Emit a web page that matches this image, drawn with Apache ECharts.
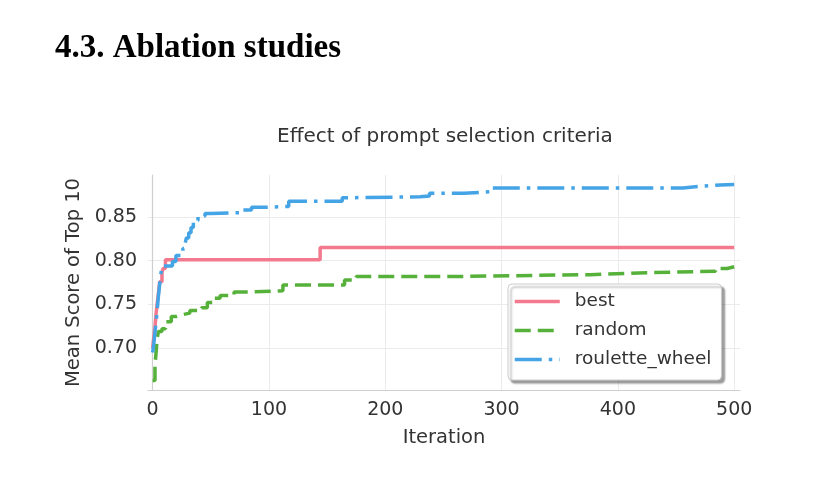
<!DOCTYPE html>
<html>
<head>
<meta charset="utf-8">
<script src="https://cdn.jsdelivr.net/npm/echarts@6/dist/echarts.min.js"></script>
<style>
html,body{margin:0;padding:0;background:#fff;}
#chart{width:813px;height:478px;}
</style>
</head>
<body>
<div id="chart"></div>
<script>
// ---- data ----
const seriesNames = ['best', 'random', 'roulette_wheel'];
const xTickLabels = ['0', '100', '200', '300', '400', '500'];
const yTickLabels = ['0.70', '0.75', '0.80', '0.85'];

// [iteration, mean score of top 10] at each change point (step curve)
const bestData = [
  [0, 0.700], [1, 0.712], [2, 0.724], [3, 0.740], [4, 0.752], [5, 0.763],
  [6, 0.776], [8, 0.786], [9, 0.791], [11, 0.801], [144, 0.815], [500, 0.815]
];
const randomData = [
  [0, 0.663], [2, 0.680], [3, 0.696], [4, 0.712], [5, 0.719], [8, 0.722],
  [11, 0.730], [16, 0.736], [20, 0.738], [25, 0.740], [32, 0.743], [42, 0.746],
  [47, 0.752], [53, 0.757], [58, 0.760], [70, 0.764], [80, 0.7655], [112, 0.772],
  [165, 0.778], [175, 0.782], [268, 0.784], [376, 0.786], [418, 0.788],
  [484, 0.791], [494, 0.793], [500, 0.793]
];
const rouletteData = [
  [0, 0.695], [1, 0.705], [2, 0.718], [3, 0.730], [4, 0.745], [5, 0.760],
  [6, 0.772], [7, 0.784], [8, 0.794], [17, 0.799], [20, 0.806], [26, 0.814],
  [28, 0.820], [29, 0.826], [31, 0.832], [33, 0.838], [35, 0.846], [39, 0.851],
  [45, 0.854], [50, 0.855], [77, 0.858], [85, 0.861], [95, 0.862], [117, 0.868],
  [163, 0.872], [168, 0.873], [230, 0.874], [238, 0.877], [268, 0.879],
  [292, 0.883], [456, 0.885], [470, 0.8865], [488, 0.887], [500, 0.887]
];

const colors = ['#f3798e', '#55b13a', '#44a4e6'];
const font = 'DejaVu Sans';
const textColor = '#333333';

const chart = echarts.init(document.getElementById('chart'), null, {renderer: 'canvas'});
chart.setOption({
  animation: false,
  backgroundColor: '#ffffff',
  title: [
    {
      text: '4.3. Ablation studies',
      left: 50, top: 27,
      textStyle: {fontFamily: 'Liberation Serif', fontWeight: 'bold', fontSize: 33, color: '#000'}
    },
    {
      text: 'Effect of prompt selection criteria',
      left: 272, top: 122,
      textStyle: {fontFamily: font, fontWeight: 'normal', fontSize: 20, color: textColor}
    }
  ],
  grid: {left: 148, right: 73, top: 175, bottom: 88, containLabel: false},
  xAxis: {
    type: 'value',
    min: -4, max: 505, splitNumber: 5,
    name: 'Iteration', nameLocation: 'middle', nameGap: 38,
    nameTextStyle: {fontFamily: font, fontSize: 19.5, color: textColor},
    axisLine: {show: true, lineStyle: {color: '#cfcfcf', width: 1.2}},
    axisTick: {show: false},
    axisLabel: {
      fontFamily: font, fontSize: 19, color: textColor, margin: 11,
      showMinLabel: false, showMaxLabel: false,
      formatter: v => { const s = String(Math.round(v)); return xTickLabels.includes(s) ? s : ''; }
    },
    splitLine: {show: true, showMinLine: false, showMaxLine: false, lineStyle: {color: '#ebebeb', width: 1}}
  },
  yAxis: {
    type: 'value',
    min: 0.652, max: 0.898, splitNumber: 5,
    name: 'Mean Score of Top 10', nameLocation: 'middle', nameGap: 64, nameRotate: 90,
    nameTextStyle: {fontFamily: font, fontSize: 19.5, color: textColor},
    axisLine: {show: true, lineStyle: {color: '#cfcfcf', width: 1.2}},
    axisTick: {show: false},
    axisLabel: {
      fontFamily: font, fontSize: 19, color: textColor, margin: 11,
      showMinLabel: false, showMaxLabel: false,
      formatter: v => { const s = v.toFixed(2); return yTickLabels.includes(s) ? s : ''; }
    },
    splitLine: {show: true, showMinLine: false, showMaxLine: false, lineStyle: {color: '#ebebeb', width: 1}}
  },
  legend: {
    orient: 'vertical',
    left: 508, top: 284,
    padding: [8, 10, 11, 5],
    itemWidth: 45, itemHeight: 20, itemGap: 10,
    backgroundColor: '#ffffff',
    borderColor: '#cccccc', borderWidth: 1, borderRadius: 4,
    shadowColor: 'rgba(0,0,0,0.38)', shadowBlur: 2, shadowOffsetX: 3, shadowOffsetY: 3,
    itemStyle: {color: 'rgba(0,0,0,0)', borderColor: 'rgba(0,0,0,0)', borderWidth: 0},
    lineStyle: {width: 3.5},
    textStyle: {fontFamily: font, fontSize: 18.5, color: textColor, padding: [0, 0, 0, 10]},
    data: seriesNames
  },
  series: [
    {
      name: seriesNames[0], type: 'line', step: 'end', data: bestData,
      symbol: 'none', color: colors[0],
      lineStyle: {width: 3.5, type: 'solid', color: colors[0]}
    },
    {
      name: seriesNames[1], type: 'line', step: 'end', data: randomData,
      symbol: 'none', color: colors[1],
      lineStyle: {width: 3.5, type: [16, 7], color: colors[1]}
    },
    {
      name: seriesNames[2], type: 'line', step: 'end', data: rouletteData,
      symbol: 'none', color: colors[2],
      lineStyle: {width: 3.5, type: [27, 7, 3.5, 7], color: colors[2]}
    }
  ]
});
</script>
</body>
</html>
